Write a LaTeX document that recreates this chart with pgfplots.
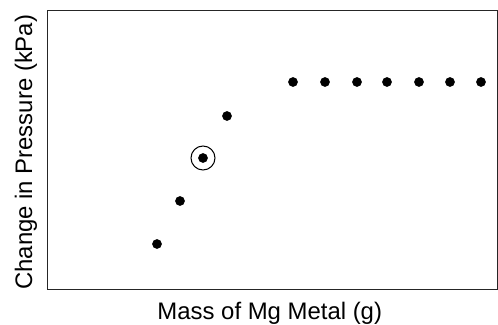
\documentclass[border=0pt]{standalone}
\usepackage{pgfplots}
\pgfplotsset{compat=1.18}
\usepackage{fontspec}
\setmainfont{Liberation Sans}
\begin{document}
\begin{tikzpicture}
\useasboundingbox (-47bp,-36bp) rectangle (451bp,289bp);
\begin{axis}[
  at={(0,0)}, anchor=south west,
  scale only axis,
  width=450bp, height=279bp,
  xmin=47, xmax=497, ymin=36, ymax=315,
  xtick=\empty, ytick=\empty,
  axis line style={line width=0.9pt, black!85},
  clip=false,
  xlabel={Mass of Mg Metal (g)},
  ylabel={Change in Pressure (kPa)},
  label style={font=\fontsize{24}{28}\selectfont},
  xlabel style={at={(axis description cs:0.495,-0.111)}, anchor=base},
  ylabel style={at={(axis description cs:-0.0333,0.49)}, anchor=base},
]
\addplot[only marks, mark=*, mark size=4.6bp, black] coordinates {
(157,81) (180,124) (203,167) (227,209)
(293,243) (325,243) (357,243) (387,243) (419,243) (450,243) (481,243)
};
\addplot[only marks, mark=o, mark size=12bp, black, mark options={line width=1bp}] coordinates {(203,167)};
\end{axis}
\end{tikzpicture}
\end{document}
